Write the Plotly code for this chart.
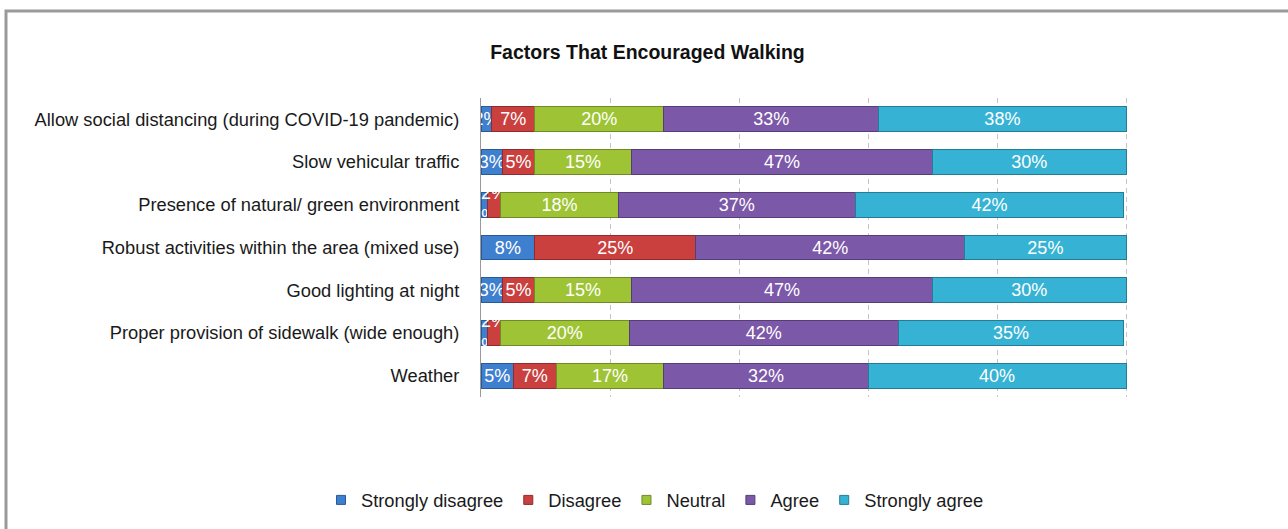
import plotly.graph_objects as go

categories = [
    "Allow social distancing (during COVID-19 pandemic)",
    "Slow vehicular traffic",
    "Presence of natural/ green environment",
    "Robust activities within the area (mixed use)",
    "Good lighting at night",
    "Proper provision of sidewalk (wide enough)",
    "Weather",
]
strongly_disagree = [1.67, 3.33, 1.0, 8.33, 3.33, 1.0, 5.0]
disagree = [6.67, 5.0, 2.0, 25.0, 5.0, 2.0, 6.67]
neutral = [20.0, 15.0, 18.33, 0.0, 15.0, 20.0, 16.67]
agree = [33.33, 46.67, 36.67, 41.67, 46.67, 41.67, 31.67]
strongly_agree = [38.33, 30.0, 41.67, 25.0, 30.0, 35.0, 40.0]

series_names = ["Strongly disagree", "Disagree", "Neutral", "Agree", "Strongly agree"]
series_values = [strongly_disagree, disagree, neutral, agree, strongly_agree]
colors = ["#3f7fcf", "#c9403f", "#9ec436", "#7c58a8", "#36b3d4"]
edge_colors = ["#2a5a96", "#8e2c2b", "#6f8a26", "#563d78", "#257d94"]

# vertical nudging of crowded labels (series index, row index) -> "up"/"down"
label_nudge = {(0, 2): "down", (1, 2): "up", (0, 5): "down", (1, 5): "up"}

FONT = "Liberation Sans, Arial, sans-serif"


def label(si, ri, v):
    if not v:
        return ""
    t = f"{round(v)}%"
    nudge = label_nudge.get((si, ri))
    if nudge == "up":
        return t + "<br> "
    if nudge == "down":
        return " <br>" + t
    return t


fig = go.Figure()
for si, (name, vals, col, edge) in enumerate(zip(series_names, series_values, colors, edge_colors)):
    fig.add_trace(go.Bar(
        y=categories, x=vals, name=name, orientation="h",
        marker=dict(color=col, line=dict(color=edge, width=1)),
        text=[label(si, ri, v) for ri, v in enumerate(vals)],
        textposition="inside", insidetextanchor="middle", textangle=0,
        textfont=dict(color="white", size=18, family=FONT),
        cliponaxis=False, showlegend=False,
    ))
    fig.add_trace(go.Scatter(
        x=[None], y=[None], mode="markers", name=name,
        marker=dict(symbol="square", size=9, color=col, line=dict(color=edge, width=1)),
        hoverinfo="skip",
    ))

L, R, T, B = 481, 33, 98, 132
W, H = 1288, 529
pw, ph = W - L - R, H - T - B


def px_x(p):
    return (p - L) / pw


def px_y(p):
    return (H - B - p) / ph


fig.update_layout(
    barmode="stack",
    bargap=0.42,
    width=W, height=H,
    margin=dict(l=L, r=R, t=T, b=B, autoexpand=False),
    paper_bgcolor="white", plot_bgcolor="white",
    font=dict(family=FONT, size=18.3, color="#1a1a1a"),
    uniformtext=dict(minsize=18, mode="show"),
    title=dict(text="<b>Factors That Encouraged Walking</b>", x=647.5 / W, xanchor="center",
               y=1 - 52 / H, yanchor="middle", font=dict(size=19.5, color="#111111", family=FONT)),
    xaxis=dict(range=[0, 120], dtick=20, showticklabels=False, showgrid=True,
               gridcolor="#c4c4c4", griddash="5px,4px", gridwidth=1, zeroline=False, fixedrange=True),
    yaxis=dict(autorange="reversed", showline=True, linecolor="#9a9a9a", linewidth=1,
               ticks="", ticklabelstandoff=17, tickfont=dict(size=18.3, color="#1a1a1a")),
    legend=dict(orientation="h", x=px_x(655), xanchor="center", y=px_y(500), yanchor="middle",
                font=dict(size=18.3, color="#1a1a1a"), traceorder="normal", itemwidth=30),
    shapes=[dict(type="rect", xref="paper", yref="paper",
                 x0=px_x(6), x1=px_x(1300), y0=px_y(560), y1=px_y(11),
                 line=dict(color="#9a9a9a", width=3), fillcolor="rgba(0,0,0,0)", layer="below")],
)

fig.write_html("out.html", config={"displayModeBar": False},
               post_script="document.body.style.margin='0px';")
